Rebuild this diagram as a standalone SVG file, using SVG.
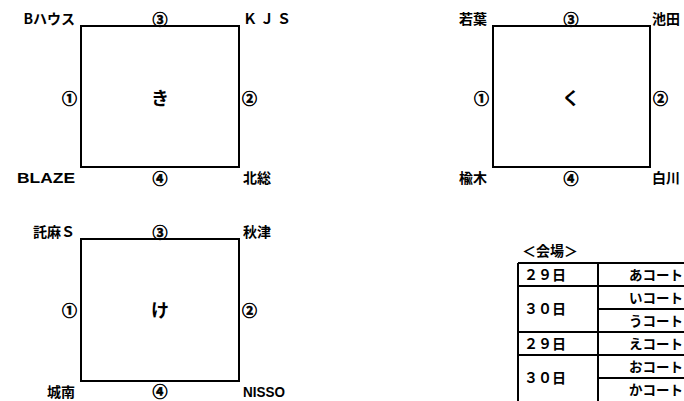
<svg xmlns="http://www.w3.org/2000/svg" width="684" height="401" viewBox="0 0 684 401">
<style>
text{font-family:"Liberation Sans","Noto Sans CJK JP",sans-serif;font-size:14px;fill:#000;font-weight:bold}
.j{font-family:"Noto Sans CJK JP",sans-serif;font-size:14px}
.n{font-family:"Noto Sans CJK JP",sans-serif;font-size:15px;font-weight:bold;stroke:#000;stroke-width:0.6}
.c{text-anchor:middle}
.e{text-anchor:end}
.box{fill:#fff;stroke:#000;stroke-width:2}
.tl{stroke:#000;stroke-width:2;fill:none}
.big{font-size:18px;font-weight:bold}
.k{font-size:13.5px}
</style>
<rect width="684" height="401" fill="#fff"/>
<g id="court-ki">
<rect class="box" x="81" y="26" width="158" height="141"/>
<text class="j e" x="75" y="24">Bハウス</text>
<text class="n c" x="160" y="25">③</text>
<text class="j" x="243" y="24" letter-spacing="3">ＫＪＳ</text>
<text class="n e" x="77" y="104">①</text>
<text class="j c big" x="160" y="105">き</text>
<text class="n" x="242" y="104">②</text>
<text class="e" x="75" y="183" textLength="58" lengthAdjust="spacingAndGlyphs">BLAZE</text>
<text class="n c" x="160" y="184">④</text>
<text class="j" x="243" y="183">北総</text>
</g>
<g id="court-ku">
<rect class="box" x="493" y="26" width="157" height="141"/>
<text class="j e" x="487" y="24">若葉</text>
<text class="n c" x="571" y="25">③</text>
<text class="j" x="652" y="24">池田</text>
<text class="n e" x="489" y="104">①</text>
<text class="j c big" x="571" y="105">く</text>
<text class="n" x="653" y="104">②</text>
<text class="j e" x="487" y="183">楡木</text>
<text class="n c" x="571" y="184">④</text>
<text class="j" x="652" y="183">白川</text>
</g>
<g id="court-ke">
<rect class="box" x="81" y="239" width="158" height="142"/>
<text class="j e" x="75" y="237">託麻Ｓ</text>
<text class="n c" x="160" y="238">③</text>
<text class="j" x="243" y="237">秋津</text>
<text class="n e" x="77" y="316">①</text>
<text class="j c big" x="160" y="317">け</text>
<text class="n" x="242" y="316">②</text>
<text class="j e" x="75" y="397">城南</text>
<text class="n c" x="160" y="397">④</text>
<text x="243" y="397" textLength="42" lengthAdjust="spacingAndGlyphs">NISSO</text>
</g>
<g id="venue-table">
<text class="j" x="522" y="256" font-size="13">＜会場＞</text>
<path class="tl" d="M518 263H690M518 263V401M598 263V401M518 286H690M598 309H690M518 332H690M518 355H690M598 378H690"/>
<text class="j" x="524" y="280">２９日</text>
<text class="j" x="524" y="314">３０日</text>
<text class="j" x="524" y="349">２９日</text>
<text class="j" x="524" y="383">３０日</text>
<text class="j k" x="629" y="280">あコート</text>
<text class="j k" x="629" y="303">いコート</text>
<text class="j k" x="629" y="326">うコート</text>
<text class="j k" x="629" y="349">えコート</text>
<text class="j k" x="629" y="372">おコート</text>
<text class="j k" x="629" y="395">かコート</text>
</g>
</svg>
